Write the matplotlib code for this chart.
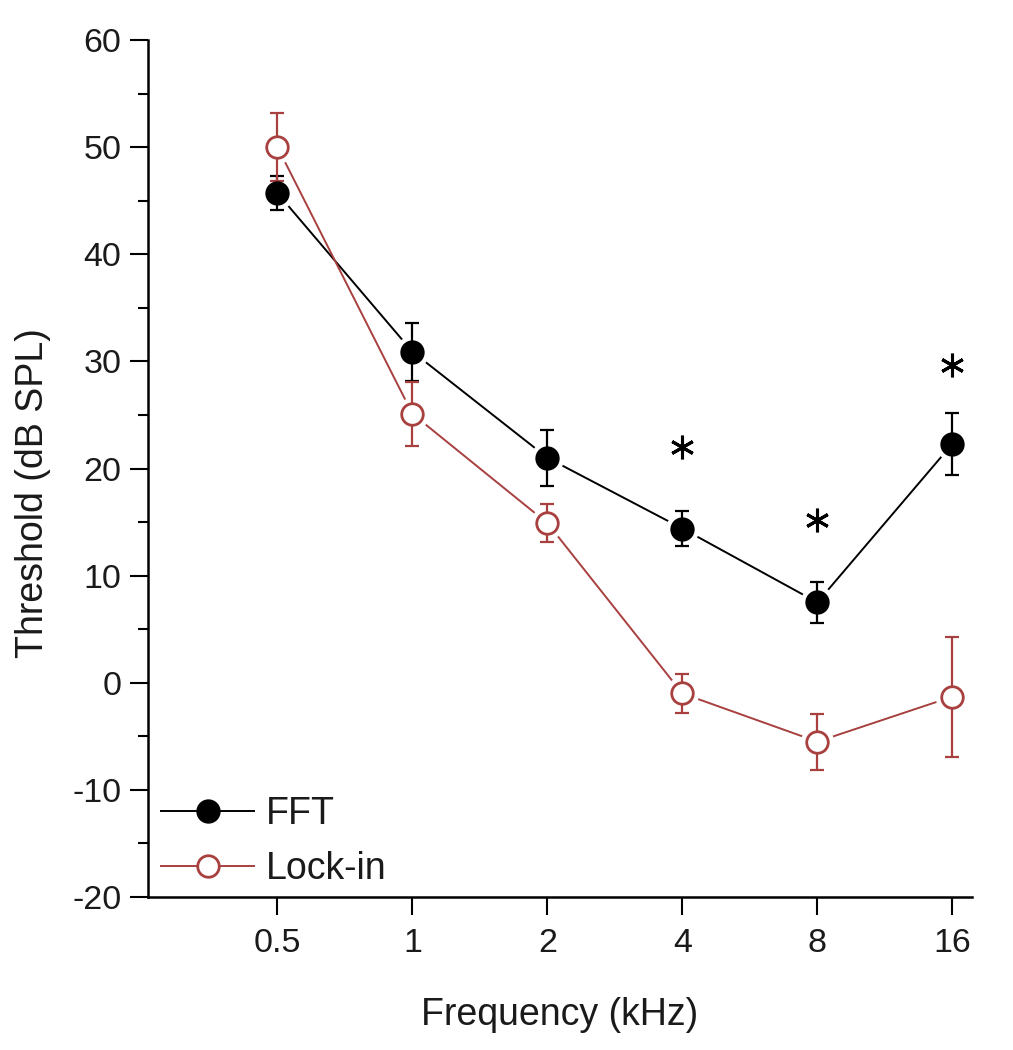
import matplotlib
matplotlib.use('Agg')
import matplotlib.pyplot as plt

plt.rcParams['font.family'] = ['Liberation Sans', 'DejaVu Sans']

freqs = [0.5, 1, 2, 4, 8, 16]
freq_labels = ['0.5', '1', '2', '4', '8', '16']

fft_mean = [45.7, 30.9, 21.0, 14.4, 7.5, 22.3]
fft_err = [1.6, 2.7, 2.6, 1.6, 1.9, 2.9]

lock_mean = [50.0, 25.1, 14.9, -1.0, -5.5, -1.3]
lock_err = [3.2, 3.0, 1.8, 1.8, 2.6, 5.6]

star_freqs = [4, 8, 16]
star_y = [22.0, 15.2, 29.7]

RED = '#a8403f'
TXT = '#1a1a1a'


def draw_series(ax, x, y, err, color, face, label):
    # Origin-style: line with small gaps around the markers
    ax.plot(x, y, '-', color=color, lw=1.4, zorder=1)
    ax.plot(x, y, 'o', ms=23, mfc='white', mec='white', zorder=2)
    ax.errorbar(x, y, yerr=err, fmt='none', ecolor=color, elinewidth=1.6,
                capsize=5, capthick=1.6, zorder=3)
    ax.plot(x, y, 'o', ms=15.5, mfc=face, mec=color, mew=2, zorder=4)
    # legend proxy
    return ax.plot([], [], '-o', color=color, ms=15.5, mfc=face, mec=color,
                   mew=2, lw=1.4, label=label)[0]


def main():
    fig = plt.figure(figsize=(10.13, 10.5), dpi=100)
    ax = fig.add_axes([0.146, 0.1457, 0.8135, 0.8162])

    h1 = draw_series(ax, freqs, fft_mean, fft_err, 'black', 'black', 'FFT')
    h2 = draw_series(ax, freqs, lock_mean, lock_err, RED, 'white', 'Lock-in')

    ax.plot(star_freqs, star_y, ls='none', marker=(6, 2, 0), ms=17,
            mew=2.2, color='black', zorder=5)

    ax.set_xscale('log', base=2)
    ax.set_xlim(0.257, 17.7)
    ax.set_ylim(-20, 60)
    ax.set_xticks(freqs)
    ax.set_xticklabels(freq_labels)
    ax.minorticks_off()
    ax.set_yticks(range(-20, 61, 10))
    ax.set_yticks(range(-15, 60, 10), minor=True)
    ax.set_yticklabels(['-20', '-10', '0', '10', '20', '30', '40', '50', '60'])

    for s in ['top', 'right']:
        ax.spines[s].set_visible(False)
    for s in ['left', 'bottom']:
        ax.spines[s].set_linewidth(1.8)

    ax.tick_params(axis='both', which='major', length=13, width=1.5,
                   labelsize=24.5, labelcolor=TXT, direction='out', pad=6)
    ax.tick_params(axis='x', which='major', pad=9)
    ax.tick_params(axis='y', which='minor', length=7, width=1.5,
                   direction='out')
    ax.tick_params(axis='x', which='minor', length=0)

    ax.set_xlabel('Frequency (kHz)', fontsize=27, color=TXT, labelpad=28)
    ax.set_ylabel('Threshold (dB SPL)', fontsize=27, color=TXT)
    ax.yaxis.set_label_coords(-0.117, 0.471)

    ax.legend(handles=[h1, h2], loc='lower left', frameon=False,
              fontsize=27, handlelength=2.5, handletextpad=0.3,
              borderaxespad=0.05, labelspacing=0.5,
              bbox_to_anchor=(-0.005, -0.008), labelcolor=TXT)

    fig.savefig('out.png', dpi=100)


if __name__ == '__main__':
    main()
